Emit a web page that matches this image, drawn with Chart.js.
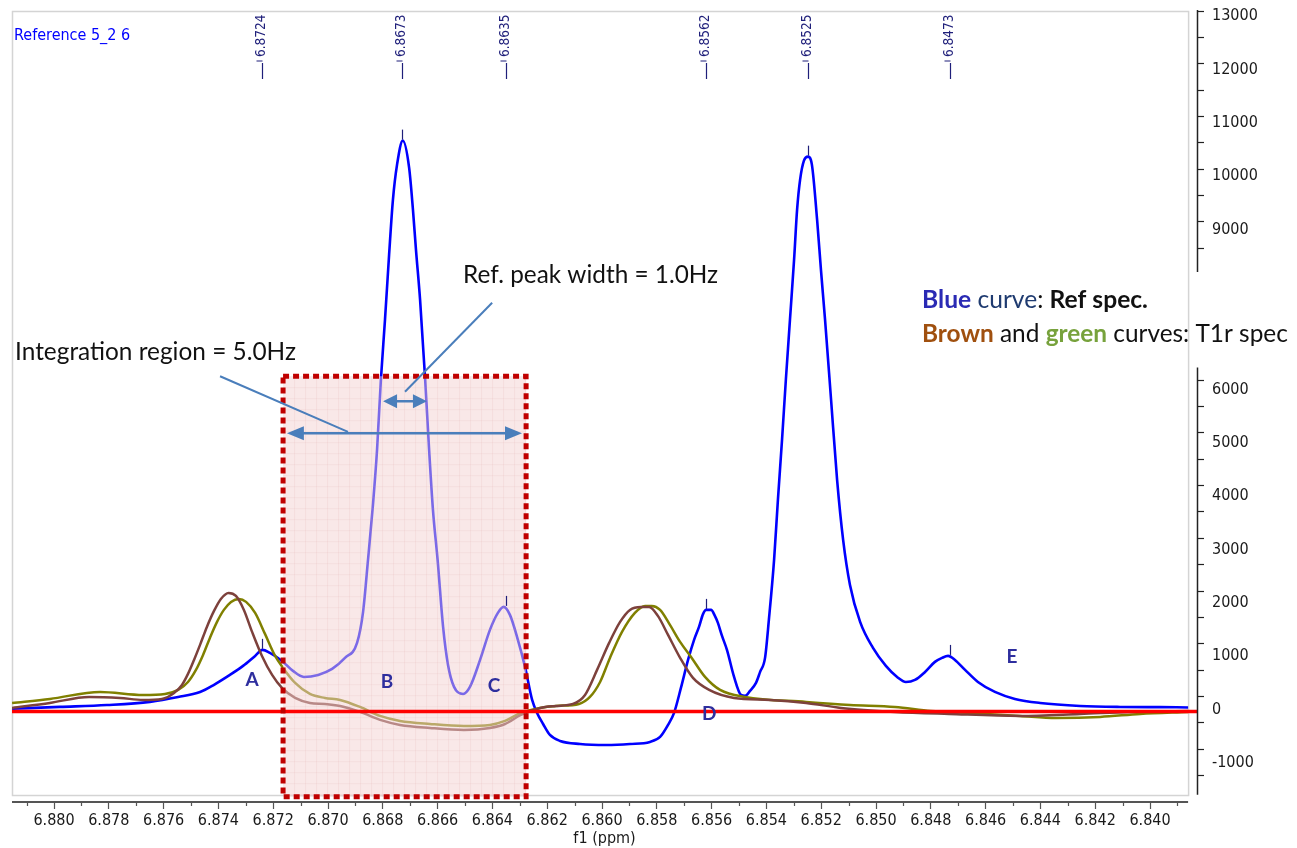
<!DOCTYPE html>
<html>
<head>
<meta charset="utf-8">
<title>Reference 5_2 6</title>
<script src="https://cdn.jsdelivr.net/npm/chart.js@4.4.1/dist/chart.umd.min.js"></script>
<style>
  html, body { margin: 0; padding: 0; background: #fff; }
  #wrap { width: 1297px; height: 848px; }
</style>
</head>
<body>
<div id="wrap"><canvas id="spec"></canvas></div>
<script>
// Reference spectrum (blue): f1 in ppm, intensity
const refPpm = [6.88153, 6.87978, 6.87807, 6.87650, 6.87547, 6.87467, 6.87416, 6.87358, 6.87310, 6.87266,
  6.87239, 6.87212, 6.87168, 6.87128, 6.87088, 6.87036, 6.86985, 6.86938, 6.86894, 6.86872,
  6.86854, 6.86836, 6.86821, 6.86807, 6.86792, 6.86777, 6.86763, 6.86748, 6.86727, 6.86704,
  6.86690, 6.86679, 6.86664, 6.86646, 6.86631, 6.86617, 6.86600, 6.86580, 6.86562, 6.86540,
  6.86507, 6.86482, 6.86445, 6.86409, 6.86380, 6.86359, 6.86336, 6.86307, 6.86281, 6.86255,
  6.86237, 6.86215, 6.86190, 6.86153, 6.86080, 6.85985, 6.85898, 6.85825, 6.85788, 6.85759,
  6.85737, 6.85712, 6.85686, 6.85664, 6.85646, 6.85631, 6.85620, 6.85602, 6.85588, 6.85577,
  6.85562, 6.85544, 6.85518, 6.85493, 6.85478, 6.85460, 6.85438, 6.85423, 6.85405, 6.85391,
  6.85372, 6.85358, 6.85343, 6.85329, 6.85314, 6.85299, 6.85288, 6.85277, 6.85263, 6.85248,
  6.85234, 6.85215, 6.85201, 6.85186, 6.85164, 6.85142, 6.85120, 6.85095, 6.85058, 6.85011,
  6.84964, 6.84923, 6.84891, 6.84858, 6.84821, 6.84785, 6.84759, 6.84737, 6.84712, 6.84675,
  6.84628, 6.84566, 6.84493, 6.84401, 6.84255, 6.84109, 6.83964, 6.83861];
const refIntensity = [50, 85, 120, 180, 270, 365, 500, 685, 854, 1041,
  1155, 1097, 947, 760, 647, 685, 797, 1004, 1285, 1867,
  2842, 3874, 4906, 6219, 7345, 8564, 9596, 10252, 10703, 10196,
  9408, 8658, 7720, 6275, 4906, 3780, 2842, 1585, 872, 460,
  328, 460, 966, 1529, 1848, 1960, 1810, 1341, 835, 216,
  -28, -235, -441, -553, -610, -628, -610, -572, -478, -253,
  -28, 441, 966, 1341, 1585, 1829, 1904, 1904, 1792, 1660,
  1416, 1154, 647, 310, 291, 385, 535, 741, 1004, 1717,
  2842, 3968, 5093, 6219, 7345, 8470, 9408, 9971, 10327, 10402,
  10252, 9220, 8283, 7345, 5844, 4343, 3217, 2373, 1679, 1191,
  854, 647, 553, 591, 741, 929, 1004, 1041, 966, 779,
  553, 366, 235, 159, 103, 84, 80, 75];

// T1r spectrum, brown curve
const brownPpm = [6.88153, 6.88015, 6.87872, 6.87759, 6.87675, 6.87606, 6.87562, 6.87533, 6.87511, 6.87489,
  6.87467, 6.87442, 6.87416, 6.87391, 6.87363, 6.87336, 6.87307, 6.87277, 6.87241, 6.87204,
  6.87168, 6.87120, 6.87066, 6.87011, 6.86956, 6.86883, 6.86810, 6.86737, 6.86628, 6.86504,
  6.86409, 6.86354, 6.86296, 6.86226, 6.86168, 6.86106, 6.86062, 6.86018, 6.85974, 6.85934,
  6.85898, 6.85858, 6.85828, 6.85796, 6.85759, 6.85715, 6.85668, 6.85609, 6.85518, 6.85387,
  6.85255, 6.85128, 6.84931, 6.84734, 6.84474, 6.84255, 6.84073, 6.83861];
const brownIntensity = [66, 160, 272, 253, 216, 235, 347, 497, 704, 966,
  1248, 1585, 1885, 2110, 2223, 2167, 1904, 1491, 1041, 685,
  441, 253, 159, 141, 103, -9, -159, -253, -310, -347,
  -310, -235, -66, 66, 103, 141, 310, 779, 1285, 1679,
  1904, 1960, 1960, 1792, 1435, 1004, 628, 403, 253, 216,
  159, 66, -9, -47, -84, -47, -9, 9];

// T1r spectrum, green curve
const greenPpm = [6.88153, 6.88015, 6.87832, 6.87675, 6.87595, 6.87547, 6.87511, 6.87482, 6.87456, 6.87431,
  6.87405, 6.87380, 6.87354, 6.87325, 6.87299, 6.87266, 6.87230, 6.87193, 6.87164, 6.87120,
  6.87066, 6.87011, 6.86956, 6.86883, 6.86810, 6.86737, 6.86628, 6.86504, 6.86409, 6.86354,
  6.86296, 6.86226, 6.86168, 6.86084, 6.86044, 6.86007, 6.85971, 6.85927, 6.85880, 6.85843,
  6.85818, 6.85788, 6.85752, 6.85715, 6.85675, 6.85624, 6.85569, 6.85478, 6.85255, 6.85095,
  6.84931, 6.84799, 6.84657, 6.84474, 6.84343, 6.84182, 6.84036, 6.83861];
const greenIntensity = [159, 235, 366, 310, 328, 403, 553, 779, 1060, 1379,
  1679, 1904, 2054, 2110, 2054, 1848, 1454, 1041, 816, 535,
  328, 253, 216, 84, -84, -178, -235, -272, -253, -178,
  -28, 66, 103, 141, 272, 553, 1004, 1491, 1848, 1979,
  1979, 1904, 1623, 1304, 1022, 647, 403, 272, 178, 122,
  84, 9, -28, -84, -122, -103, -47, -9];

// picked peaks of the reference spectrum
const peakPpm = [6.8724, 6.8673, 6.8635, 6.8562, 6.8525, 6.8473];

// region letters
const letterNames = ['A', 'B', 'C', 'D', 'E'];
const letterPpm = [6.87277, 6.86785, 6.86394, 6.85609, 6.84504];
const letterIntensity = [591, 553, 478, -47, 1022];

// tick labels
const xTickLabels = ['6.880', '6.878', '6.876', '6.874', '6.872', '6.870', '6.868', '6.866', '6.864', '6.862', '6.860',
  '6.858', '6.856', '6.854', '6.852', '6.850', '6.848', '6.846', '6.844', '6.842', '6.840'];
const yTickLabels = [13000, 12000, 11000, 10000, 9000, 6000, 5000, 4000, 3000, 2000, 1000, 0, -1000];

// axis ranges
const ppmMin = 6.838285, ppmMax = 6.881533;
const intMin = -1698, intMax = 13133;
const axisBreak = [6450, 8240];   // gap in the intensity axis
const axisEnd = -1560;
const frameRightPpm = 6.83861;

// integration region + annotation anchors (ppm, intensity)
const region = { left: 6.87164, right: 6.86277, top: 6285, bottom: -1600 };
const regionArrow = { from: 6.87150, to: 6.86292, at: 5215 };
const widthArrow = { from: 6.86799, to: 6.86639, at: 5816 };
const regionLeader = [[6.87394, 6285], [6.86927, 5243]];
const widthLeader = [[6.86401, 7663], [6.86719, 5994]];

const pairs = (xs, ys) => xs.map((v, i) => ({ x: v, y: ys[i] }));

function fillRich(ctx, parts, x0, yMid, width) {
    const base = 20;
    const fontOf = (p, s) => (p.bold ? 'bold ' : '') + s + 'px Lato';
    let w = 0;
    parts.forEach(p => { ctx.font = fontOf(p, base); w += ctx.measureText(p.text).width; });
    const size = base * width / w;
    let cx = x0;
    ctx.textAlign = 'left';
    ctx.textBaseline = 'middle';
    parts.forEach(p => {
        ctx.font = fontOf(p, size);
        ctx.fillStyle = p.color;
        ctx.fillText(p.text, cx, yMid);
        cx += ctx.measureText(p.text).width;
    });
}

function hArrow(ctx, xa, xb, yy, headLen, headHalf) {
    ctx.beginPath();
    ctx.moveTo(xa + headLen * 0.8, yy);
    ctx.lineTo(xb - headLen * 0.8, yy);
    ctx.stroke();
    ctx.beginPath();
    ctx.moveTo(xa, yy);
    ctx.lineTo(xa + headLen, yy - headHalf);
    ctx.lineTo(xa + headLen, yy + headHalf);
    ctx.closePath();
    ctx.fill();
    ctx.beginPath();
    ctx.moveTo(xb, yy);
    ctx.lineTo(xb - headLen, yy - headHalf);
    ctx.lineTo(xb - headLen, yy + headHalf);
    ctx.closePath();
    ctx.fill();
}

const axisFont = { family: 'DejaVu Sans Condensed', size: 16 };

const overlay = {
    id: 'overlay',
    beforeDatasetsDraw(chart) {
        const { ctx, chartArea: a, scales: { x } } = chart;
        const fr = x.getPixelForValue(frameRightPpm);
        ctx.save();
        ctx.strokeStyle = '#d4d4d4';
        ctx.lineWidth = 1.5;
        ctx.strokeRect(a.left + 0.5, a.top + 0.5, fr - a.left, a.bottom - 7 - a.top);
        ctx.restore();
    },
    afterDatasetsDraw(chart) {
        const { ctx, chartArea: a, scales: { x, y } } = chart;
        ctx.save();

        // integration region box
        const bx1 = x.getPixelForValue(region.left), bx2 = x.getPixelForValue(region.right);
        const by1 = y.getPixelForValue(region.top), by2 = y.getPixelForValue(region.bottom);
        ctx.fillStyle = 'rgba(243,210,210,0.5)';
        ctx.fillRect(bx1, by1, bx2 - bx1, by2 - by1);
        ctx.strokeStyle = 'rgba(215,150,150,0.12)';
        ctx.lineWidth = 1;
        ctx.beginPath();
        for (let gx = bx1 + 11; gx < bx2; gx += 11) { ctx.moveTo(gx + 0.5, by1); ctx.lineTo(gx + 0.5, by2); }
        for (let gy = by1 + 11; gy < by2; gy += 11) { ctx.moveTo(bx1, gy + 0.5); ctx.lineTo(bx2, gy + 0.5); }
        ctx.stroke();

        // zero line
        const y0 = y.getPixelForValue(0);
        ctx.strokeStyle = '#ff0000';
        ctx.lineWidth = 3.5;
        ctx.beginPath();
        ctx.moveTo(a.left, y0);
        ctx.lineTo(a.right, y0);
        ctx.stroke();

        ctx.setLineDash([6, 4]);
        ctx.strokeStyle = '#c00000';
        ctx.lineWidth = 5;
        ctx.strokeRect(bx1, by1, bx2 - bx1, by2 - by1);
        ctx.setLineDash([]);

        // arrows and leader lines
        ctx.strokeStyle = '#4a7ebb';
        ctx.fillStyle = '#4a7ebb';
        ctx.lineWidth = 2.5;
        hArrow(ctx, x.getPixelForValue(regionArrow.from), x.getPixelForValue(regionArrow.to),
            y.getPixelForValue(regionArrow.at), 17, 7);
        hArrow(ctx, x.getPixelForValue(widthArrow.from), x.getPixelForValue(widthArrow.to),
            y.getPixelForValue(widthArrow.at), 14, 7);
        ctx.lineWidth = 2;
        [regionLeader, widthLeader].forEach(l => {
            ctx.beginPath();
            ctx.moveTo(x.getPixelForValue(l[0][0]), y.getPixelForValue(l[0][1]));
            ctx.lineTo(x.getPixelForValue(l[1][0]), y.getPixelForValue(l[1][1]));
            ctx.stroke();
        });

        // annotation texts
        fillRich(ctx, [{ text: 'Integration region = 5.0Hz', color: '#111' }],
            x.getPixelForValue(6.88142), y.getPixelForValue(6744), 281);
        fillRich(ctx, [{ text: 'Ref. peak width = 1.0Hz', color: '#111' }],
            x.getPixelForValue(6.86507), y.getPixelForValue(8189), 255);
        fillRich(ctx, [
            { text: 'Blue', bold: true, color: '#2a2ab4' },
            { text: ' curve', color: '#1f3b70' },
            { text: ': ', color: '#111' },
            { text: 'Ref spec.', bold: true, color: '#111' }
        ], x.getPixelForValue(6.84832), y.getPixelForValue(7720), 226);
        fillRich(ctx, [
            { text: 'Brown', bold: true, color: '#a0500f' },
            { text: ' and ', color: '#111' },
            { text: 'green', bold: true, color: '#77a23c' },
            { text: ' curves: T1r spec', color: '#111' }
        ], x.getPixelForValue(6.84832), y.getPixelForValue(7082), 366);

        // region letters
        ctx.font = 'bold 19px Lato';
        ctx.fillStyle = '#2e2e9e';
        ctx.textAlign = 'center';
        ctx.textBaseline = 'middle';
        letterNames.forEach((t, i) => {
            ctx.fillText(t, x.getPixelForValue(letterPpm[i]), y.getPixelForValue(letterIntensity[i]));
        });

        // peak picking labels and markers
        ctx.strokeStyle = '#1f1f7a';
        ctx.fillStyle = '#1f1f7a';
        ctx.lineWidth = 1.2;
        ctx.font = '13.5px "DejaVu Sans Condensed"';
        peakPpm.forEach(p => {
            const px = Math.round(x.getPixelForValue(p)) + 0.5;
            ctx.save();
            ctx.translate(px + 2, a.top + 46);
            ctx.rotate(-Math.PI / 2);
            ctx.textAlign = 'left';
            ctx.textBaseline = 'alphabetic';
            ctx.fillText(p.toFixed(4), 0, 0);
            ctx.restore();
            ctx.beginPath();
            ctx.moveTo(px - 6, a.top + 50);
            ctx.lineTo(px, a.top + 50);
            ctx.moveTo(px, a.top + 52);
            ctx.lineTo(px, a.top + 68);
            ctx.stroke();
            // marker above the top of the peak
            let top = -Infinity;
            refPpm.forEach((v, i) => { if (Math.abs(v - p) < 0.0003) top = Math.max(top, refIntensity[i]); });
            const py = y.getPixelForValue(top);
            ctx.beginPath();
            ctx.moveTo(px, py - 11);
            ctx.lineTo(px, py - 1);
            ctx.stroke();
        });

        ctx.font = '16px "DejaVu Sans Condensed"';
        ctx.fillStyle = '#0000ff';
        ctx.textAlign = 'left';
        ctx.textBaseline = 'middle';
        ctx.fillText('Reference 5_2 6', a.left + 2, a.top + 25);
        ctx.restore();
    },
    afterDraw(chart) {
        const { ctx, chartArea: a, scales: { x, y } } = chart;
        ctx.save();
        // broken intensity axis
        ctx.strokeStyle = '#222';
        ctx.lineWidth = 1.5;
        const ax = a.right + 0.5;
        ctx.beginPath();
        ctx.moveTo(ax, a.top - 1);
        ctx.lineTo(ax, y.getPixelForValue(axisBreak[1]));
        ctx.moveTo(ax, y.getPixelForValue(axisBreak[0]));
        ctx.lineTo(ax, y.getPixelForValue(axisEnd));
        ctx.stroke();
        // intensity tick labels
        ctx.font = axisFont.size + 'px "' + axisFont.family + '"';
        ctx.fillStyle = '#1a1a1a';
        ctx.textAlign = 'left';
        ctx.textBaseline = 'middle';
        yTickLabels.forEach(v => {
            ctx.fillText(String(v), a.right + 15, y.getPixelForValue(v) - 2);
        });
        // ppm axis line and minor ticks
        const fr = x.getPixelForValue(frameRightPpm);
        ctx.strokeStyle = '#555';
        ctx.lineWidth = 2;
        ctx.beginPath();
        ctx.moveTo(a.left, a.bottom);
        ctx.lineTo(fr, a.bottom);
        ctx.stroke();
        ctx.lineWidth = 1.2;
        ctx.beginPath();
        for (let k = Math.ceil(ppmMin * 1000); k <= Math.floor(ppmMax * 1000); k++) {
            if (k % 2 === 0) continue;
            const px = Math.round(x.getPixelForValue(k / 1000)) + 0.5;
            ctx.moveTo(px, a.bottom);
            ctx.lineTo(px, a.bottom + 4);
        }
        ctx.stroke();
        ctx.restore();
    }
};

const yTickShown = v => (v <= axisBreak[0] || v >= axisBreak[1]) && v >= axisEnd;

new Chart(document.getElementById('spec'), {
    type: 'line',
    data: {
        datasets: [
            { label: 'T1r brown', data: pairs(brownPpm, brownIntensity), borderColor: '#7d413c', borderWidth: 2.5 },
            { label: 'T1r green', data: pairs(greenPpm, greenIntensity), borderColor: '#808000', borderWidth: 2.5 },
            { label: 'Ref', data: pairs(refPpm, refIntensity), borderColor: '#0000ff', borderWidth: 2.6 }
        ]
    },
    options: {
        responsive: true,
        maintainAspectRatio: false,
        animation: false,
        elements: {
            point: { radius: 0 },
            line: { cubicInterpolationMode: 'monotone', fill: false }
        },
        layout: { padding: { left: 12, top: 11, right: 0, bottom: 0 } },
        plugins: { legend: { display: false }, tooltip: { enabled: false } },
        scales: {
            x: {
                type: 'linear',
                reverse: true,
                min: ppmMin,
                max: ppmMax,
                afterFit: s => { s.height = 46; },
                border: { display: false },
                grid: { drawOnChartArea: false, tickLength: 7, tickColor: '#555', tickWidth: 1.2 },
                ticks: {
                    stepSize: 0.002,
                    includeBounds: false,
                    autoSkip: false,
                    maxRotation: 0,
                    padding: 2,
                    color: '#1a1a1a',
                    font: axisFont,
                    callback: v => {
                        const s = Number(v).toFixed(3);
                        return xTickLabels.includes(s) ? s : '';
                    }
                },
                title: {
                    display: true,
                    text: 'f1 (ppm)',
                    color: '#1a1a1a',
                    font: axisFont,
                    padding: { top: 0, bottom: 0 }
                }
            },
            y: {
                type: 'linear',
                position: 'right',
                min: intMin,
                max: intMax,
                afterFit: s => { s.width = 100; },
                border: { display: false },
                grid: {
                    drawOnChartArea: false,
                    tickLength: 7,
                    tickWidth: 1.2,
                    tickColor: c => (c.tick && yTickShown(c.tick.value)) ? '#222' : 'rgba(0,0,0,0)'
                },
                ticks: {
                    stepSize: 500,
                    includeBounds: false,
                    autoSkip: false,
                    display: false
                }
            }
        }
    },
    plugins: [overlay]
});
</script>
</body>
</html>
